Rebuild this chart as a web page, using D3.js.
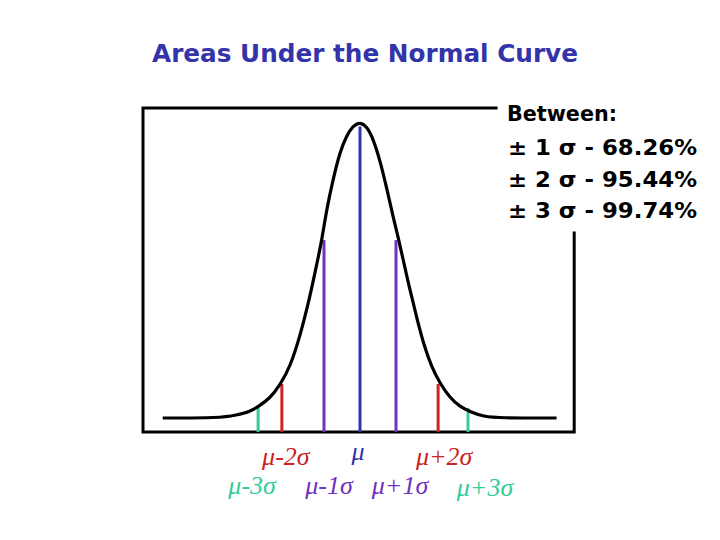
<!DOCTYPE html>
<html>
<head>
<meta charset="utf-8">
<script src="https://cdn.jsdelivr.net/npm/d3@7"></script>
<style>
  html, body { margin: 0; padding: 0; background: #fff; }
  svg { display: block; }
</style>
</head>
<body>
<svg id="chart" width="720" height="540"></svg>
<script>
// ---- data ----
const title = "Areas Under the Normal Curve";
// curve trace, x in σ-ish units from μ, y as density
const curveX = [-5.48, -3.89, -3.43, -3.06, -2.83, -2.5, -2.22, -1.94, -1.67, -1.39, -1.16, -1.06, -0.93, -0.74, -0.56, -0.37, -0.19, 0,
                0.19, 0.37, 0.56, 0.74, 0.93, 1.06, 1.2, 1.39, 1.57, 1.76, 1.99, 2.22, 2.5, 2.78, 3.06, 3.43, 3.89, 5.46];
const curveY = [0, 0, 0.004, 0.0085, 0.0153, 0.0266, 0.0447, 0.0695, 0.110, 0.164, 0.218, 0.241, 0.282, 0.325, 0.360, 0.383, 0.396, 0.401,
                0.395, 0.378, 0.348, 0.312, 0.270, 0.245, 0.214, 0.173, 0.137, 0.101, 0.069, 0.047, 0.027, 0.0153, 0.0085, 0.0018, 0, 0];
const markerNames = ["μ-3σ", "μ-2σ", "μ-1σ", "μ", "μ+1σ", "μ+2σ", "μ+3σ"];
const markerX = [-2.83, -2.17, -1.0, 0, 1.0, 2.17, 3.0];
const markerTop = [0.0136, 0.046, 0.241, 0.395, 0.241, 0.046, 0.0136];
const legendHeader = "Between:";
const legendK = ["1", "2", "3"];
const legendPct = ["68.26%", "95.44%", "99.74%"];

// ---- styling / layout ----
const colorsBy = { 3: "#33cc99", 2: "#cc2222", 1: "#7030c0", 0: "#3333aa" };
const svg = d3.select("#chart");
const x = d3.scaleLinear().domain([-6, 6]).range([144, 576]);
const y = d3.scaleLinear().domain([-0.019, 0.42]).range([432, 108]);

// title
svg.append("text")
  .attr("x", 365).attr("y", 62)
  .attr("text-anchor", "middle")
  .attr("font-family", "Verdana, 'DejaVu Sans', sans-serif")
  .attr("font-weight", "bold").attr("font-size", 24)
  .attr("fill", "#3333aa")
  .attr("textLength", 426).attr("lengthAdjust", "spacingAndGlyphs")
  .text(title);

// frame (open at top-right where the legend sits)
const fx0 = x(-6) - 1, fx1 = x(5.95), fy0 = y(0.42), fy1 = y(-0.019);
svg.append("path")
  .attr("d", `M${x(3.78)},${fy0} H${fx0} V${fy1} H${fx1} V${y(0.2505)}`)
  .attr("fill", "none").attr("stroke", "#000").attr("stroke-width", 3)
  .attr("stroke-linecap", "square");

// marker lines
const sigmaOf = d => Math.round(Math.abs(d));
svg.append("g").selectAll("line").data(markerX).join("line")
  .attr("x1", d => x(d)).attr("x2", d => x(d))
  .attr("y1", fy1).attr("y2", (d, i) => y(markerTop[i]))
  .attr("stroke", d => colorsBy[sigmaOf(d)])
  .attr("stroke-width", 3);

// curve
const pts = curveX.map((v, i) => [v, curveY[i]]);
svg.append("path")
  .datum(pts)
  .attr("d", d3.line().x(d => x(d[0])).y(d => y(d[1])).curve(d3.curveBasis))
  .attr("fill", "none").attr("stroke", "#000").attr("stroke-width", 3.2)
  .attr("stroke-linejoin", "round");

// marker labels
const labelNudge = [-6, 4, 5, -2, 4, 6, 17];
const rowBase = [494, 465, 494, 460, 494, 465, 496];
svg.append("g").selectAll("text").data(markerNames).join("text")
  .attr("x", (d, i) => x(markerX[i]) + labelNudge[i])
  .attr("y", (d, i) => rowBase[i])
  .attr("text-anchor", "middle")
  .attr("font-family", "'Times New Roman', 'Liberation Serif', serif")
  .attr("font-style", "italic").attr("font-size", 26)
  .attr("fill", (d, i) => colorsBy[sigmaOf(markerX[i])])
  .text(d => d);

// legend
const lg = svg.append("g")
  .attr("font-family", "Verdana, 'DejaVu Sans', sans-serif")
  .attr("font-weight", "bold").attr("font-size", 21).attr("fill", "#000");
lg.append("text").attr("x", 507).attr("y", 121)
  .attr("textLength", 110).attr("lengthAdjust", "spacingAndGlyphs")
  .text(legendHeader);
lg.selectAll("text.row").data(legendK).join("text")
  .attr("class", "row")
  .attr("x", 508).attr("y", (d, i) => 155 + i * 31.7)
  .attr("textLength", 189).attr("lengthAdjust", "spacingAndGlyphs")
  .text((d, i) => `± ${d} σ - ${legendPct[i]}`);
</script>
</body>
</html>
